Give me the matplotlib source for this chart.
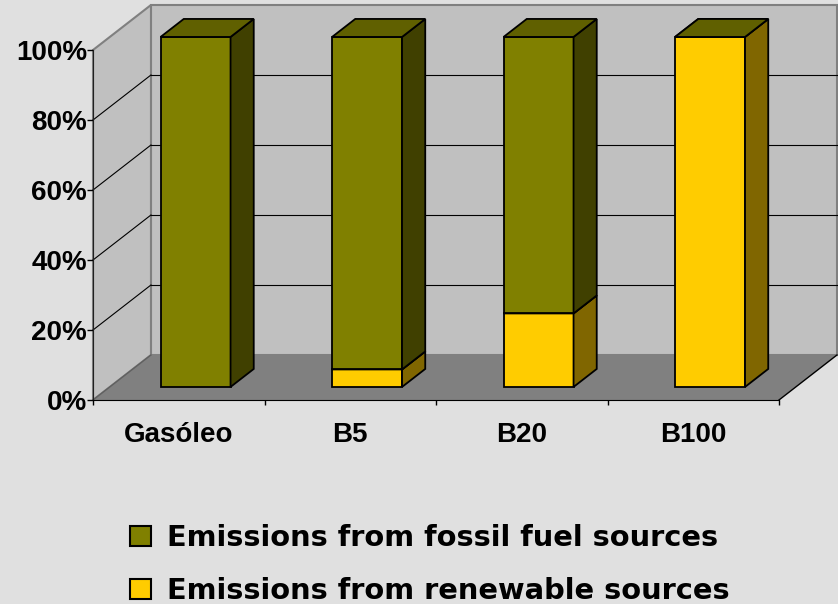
import matplotlib
matplotlib.use("Agg")
import matplotlib.pyplot as plt
from matplotlib.patches import Polygon, Patch

# Data
categories = ["Gasóleo", "B5", "B20", "B100"]
fossil = [100, 95, 79, 0]
renewable = [0, 5, 21, 100]
series_names = ["Emissions from fossil fuel sources", "Emissions from renewable sources"]
y_ticks = [0, 20, 40, 60, 80, 100]
y_tick_labels = ["0%", "20%", "40%", "60%", "80%", "100%"]

# Face colours: front, side, top
fossil_colors = ("#808000", "#404000", "#606000")
renew_colors = ("#FFCC00", "#806600", "#BF9900")

W, H = 838, 604
fig = plt.figure(figsize=(W / 100, H / 100), dpi=100, facecolor="#E0E0E0")
ax = fig.add_axes([93 / W, (H - 400) / H, 686 / W, 350 / H])
ax.set_xlim(-0.5, len(categories) - 0.5)
ax.set_ylim(0, 100)
ax.patch.set_visible(False)

# depth vector of the 3-D box, in data units
DX, DY = 0.338, 12.86
x_lo, x_hi = -0.5, len(categories) - 0.5

def poly(pts, fc, ec="none", lw=0, z=1):
    p = Polygon(pts, closed=True, facecolor=fc, edgecolor=ec, linewidth=lw,
                zorder=z, clip_on=False, joinstyle="miter")
    ax.add_patch(p)

# walls and floor
poly([(x_lo + DX, DY), (x_hi + DX, DY), (x_hi + DX, 100 + DY), (x_lo + DX, 100 + DY)],
     "#C0C0C0", "#808080", 1.5, z=0.5)
poly([(x_lo, 0), (x_lo, 100), (x_lo + DX, 100 + DY), (x_lo + DX, DY)],
     "#C0C0C0", "#808080", 1.5, z=0.6)
poly([(x_lo, 0), (x_hi, 0), (x_hi + DX, DY), (x_lo + DX, DY)], "#808080", z=0.7)
ax.plot([x_hi, x_hi + DX], [0, DY], color="black", lw=1.0, zorder=0.8, clip_on=False)
ax.plot([x_lo, x_lo + DX], [0, DY], color="#606060", lw=1.0, zorder=0.8, clip_on=False)

# gridlines on back and side walls
for v in y_ticks[1:-1]:
    ax.plot([x_lo + DX, x_hi + DX], [v + DY, v + DY], color="black", lw=0.8,
            zorder=0.9, clip_on=False)
    ax.plot([x_lo, x_lo + DX], [v, v + DY], color="black", lw=0.8,
            zorder=0.9, clip_on=False)

# 3-D stacked columns
bar_w = 0.408
f0, f1 = 0.29, 0.69
d = f1 - f0
for i in range(len(categories)):
    bottom = 0
    segments = [(renewable[i], renew_colors), (fossil[i], fossil_colors)]
    for k, (val, cols) in enumerate(segments):
        top = bottom + val
        x0 = i - bar_w / 2 + f0 * DX
        x1 = i + bar_w / 2 + f0 * DX
        y0 = bottom + f0 * DY
        y1 = top + f0 * DY
        last = k == len(segments) - 1
        if val > 0:
            poly([(x0, y0), (x1, y0), (x1, y1), (x0, y1)], cols[0], "black", 1.3, z=3)
            poly([(x1, y0), (x1 + d * DX, y0 + d * DY), (x1 + d * DX, y1 + d * DY), (x1, y1)],
                 cols[1], "black", 1.3, z=3)
        if val > 0 or last:
            poly([(x0, y1), (x1, y1), (x1 + d * DX, y1 + d * DY), (x0 + d * DX, y1 + d * DY)],
                 cols[2], "black", 1.3, z=3)
        bottom = top

# axes, ticks and labels
for s in ("top", "right"):
    ax.spines[s].set_visible(False)
ax.spines["left"].set_color("#202020")
ax.spines["bottom"].set_color("black")
ax.spines["left"].set_zorder(2)
ax.spines["bottom"].set_zorder(2)
ax.set_yticks(y_ticks)
ax.set_yticklabels(y_tick_labels)
ax.set_xticks([x_lo + j for j in range(len(categories) + 1)])
ax.set_xticklabels([])
ax.tick_params(axis="y", length=4.3, width=1, direction="out", pad=0,
               labelsize=20)
ax.tick_params(axis="x", length=3.6, width=1, direction="out")
for t in ax.get_yticklabels():
    t.set_fontfamily("Liberation Sans")
    t.set_fontweight("bold")

for i, name in enumerate(categories):
    ax.text(i, -12, name, ha="center", va="baseline", fontsize=20,
            fontfamily="Liberation Sans", fontweight="bold", clip_on=False)

handles = [Patch(facecolor=fossil_colors[0], edgecolor="black", linewidth=1.5),
           Patch(facecolor=renew_colors[0], edgecolor="black", linewidth=1.5)]
fig.legend(handles, series_names, loc="upper left",
           bbox_to_anchor=(130 / W, 1 - 524 / H), frameon=False,
           prop={"family": "DejaVu Sans", "weight": "bold", "size": 20.8},
           handlelength=0.73, handleheight=0.69, handletextpad=0.55,
           labelspacing=0.88, borderpad=0, borderaxespad=0)

fig.savefig("out.png", dpi=100, facecolor=fig.get_facecolor())
